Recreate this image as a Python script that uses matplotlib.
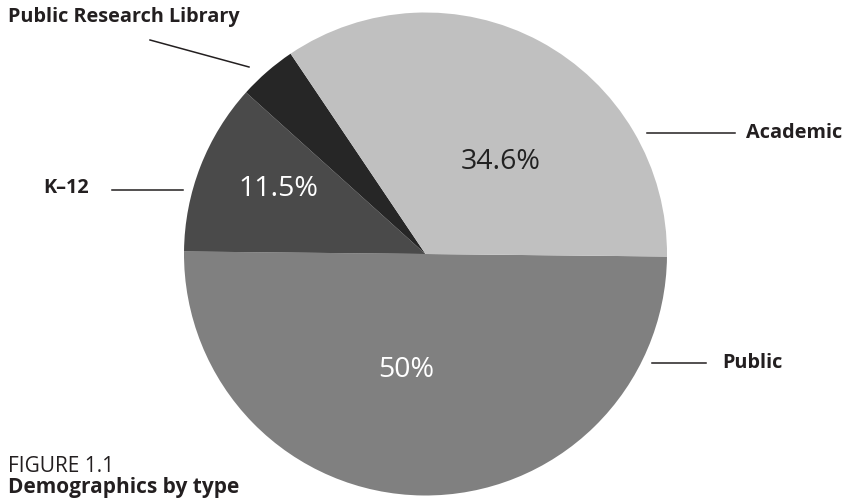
import matplotlib.pyplot as plt

# data
labels = ['Public', 'K\u201312', 'Public Research Library', 'Academic']
shares = [50, 11.5, 3.9, 34.6]
colors = ['#808080', '#4a4a4a', '#262626', '#c0c0c0']
pct_colors = ['white', 'white', 'white', '#222222']

H = 498  # figure height in px, y measured from top


def px(x, y):
    return x, H - y


fig = plt.figure(figsize=(8.48, 4.98), dpi=100)
ax = fig.add_axes([0, 0, 1, 1])

wedges, texts, autotexts = ax.pie(
    shares, colors=colors, startangle=-0.6, counterclock=False,
    center=px(425.5, 254), radius=241.5, frame=True,
    autopct=lambda p: ('%g%%' % round(p, 1)) if p > 5 else '',
    textprops=dict(family='Open Sans', fontsize=20.5, fontweight='normal'))
ax.set_xlim(0, 848)
ax.set_ylim(0, H)
ax.set_aspect('equal')
ax.axis('off')

# percent label positions (px from top-left)
pct_pos = [(406, 370), (278, 189), (0, 0), (501, 162)]
for t, pos, c in zip(autotexts, pct_pos, pct_colors):
    t.set_position(px(*pos))
    t.set_color(c)

# outer labels with leader lines
lab_font = dict(family='Open Sans', fontsize=14.3, fontweight='bold',
                color='#231f20')
leaders = [
    ((652, 363), (706, 363), (722, 363), 'left'),
    ((112, 190), (183, 190), (89, 188), 'right'),
    ((150, 40), (249, 67), (8, 17), 'left'),
    ((647, 133), (735, 133), (746, 133), 'left'),
]
for name, (p0, p1, tp, ha) in zip(labels, leaders):
    ax.plot(*zip(px(*p0), px(*p1)), color='#231f20', lw=1.1)
    ax.text(*px(*tp), name, ha=ha, va='center', **lab_font)

# caption
ax.text(*px(8, 466), 'FIGURE 1.1', family='Open Sans', fontsize=15,
        color='#231f20', va='center')
ax.text(*px(8, 488), 'Demographics by type', family='Open Sans',
        fontsize=15, fontweight='bold', color='#231f20', va='center')

fig.savefig('out.png', dpi=100)
